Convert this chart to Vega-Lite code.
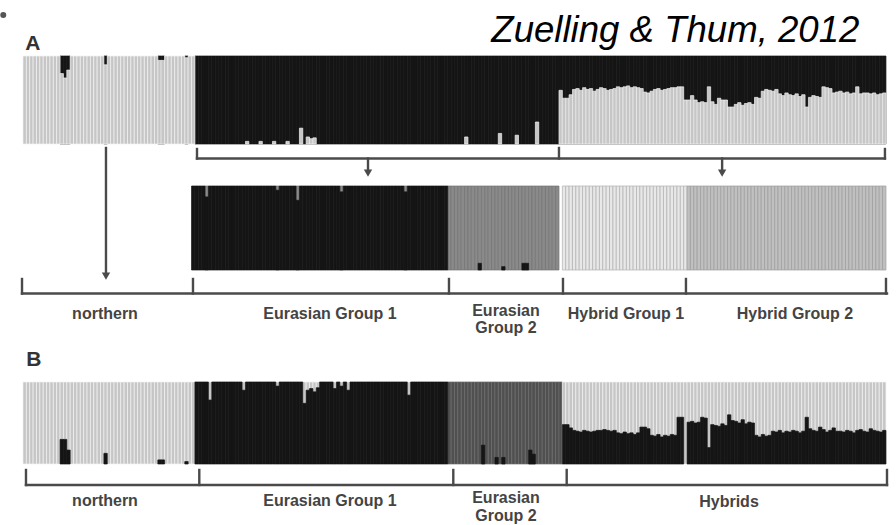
{
  "$schema": "https://vega.github.io/schema/vega-lite/v6.json",
  "width": 896,
  "height": 525,
  "padding": 0,
  "autosize": {"type": "fit", "contains": "padding"},
  "background": "white",
  "config": {"view": {"stroke": null}},
  "datasets": {
    "A": [
      {"lo": "c2", "up": "c1",
       "i": [0,1,2,3,4,5,6,7,8,9,10,11,12,13,14,15,16,17,18,19,20,21,22,23,24,25,26,27,28,29,30,31,32,33,34,35,36,37,38,39,40,41,42,43,44,45,46,47,48,49,50],
       "b": [1,1,1,1,1,1,1,1,1,1, 1,0.8,0.75,0.84,1,1,1,1,1,1, 1,1,1,1,0.9,1,1,1,1,1, 1,1,1,1,1,1,1,1,1,1, 0.95,0.95,1,1,1,1,1,1,0.98,1, 1]},
      {"lo": "c2", "up": "c1",
       "i": [51,52,53,54,55,56,57,58,59,60,61,62,63,64,65,66,67,68,69,70,71,72,73,74,75,76,77,78,79,80,81,82,83,84,85,86,87,88,89,90,91,92,93,94,95,96,97,98,99,100,101,102,103,104,105,106,107,108,109,110,111,112,113,114,115,116,117,118,119,120,121,122,123,124,125,126,127,128,129,130,131,132,133,134,135,136,137,138,139,140,141,142,143,144,145,146,147,148,149,150,151,152,153,154,155,156,157,158],
       "b": [0,0,0,0,0,0,0,0,0,0, 0,0,0,0,0,0.03,0,0,0,0.03, 0,0,0,0.03,0,0,0,0.03,0,0, 0,0.18,0,0.08,0.06,0.07,0,0,0,0, 0,0,0,0,0,0,0,0,0,0, 0,0,0,0,0,0,0,0,0,0, 0,0,0,0,0,0,0,0,0,0, 0,0,0,0,0,0,0,0,0,0, 0.08,0,0,0,0,0,0,0,0,0, 0.12,0,0,0,0,0.1,0,0,0,0, 0,0.25,0,0,0,0,0,0]},
      {"lo": "c2", "up": "c1",
       "i": [159,160,161,162,163,164,165,166,167,168,169,170,171,172,173,174,175,176,177,178,179,180,181,182,183,184,185,186,187,188,189,190,191,192,193,194,195,196,197,198,199,200,201,202,203,204,205,206,207,208,209,210,211,212,213,214,215,216,217,218,219,220,221,222,223,224,225,226,227,228,229,230,231,232,233,234,235,236,237,238,239,240,241,242,243,244,245,246,247,248,249,250,251,252,253,254,255],
       "b": [0.61,0.52,0.52,0.56, 0.62,0.63,0.61,0.64,0.62,0.63,0.6,0.62,0.64,0.63,0.61,0.62,0.63, 0.65,0.64,0.65,0.66,0.64,0.65,0.64,0.63, 0.59,0.58,0.6, 0.62,0.63,0.61,0.62,0.63,0.64,0.64, 0.65,0.65, 0.5, 0.5, 0.55,0.5,0.47,0.48, 0.47, 0.65, 0.48,0.45,0.52,0.5, 0.5, 0.42,0.42, 0.45,0.47,0.44,0.46,0.47,0.45, 0.53,0.52, 0.6,0.62,0.61,0.6,0.62, 0.57,0.55,0.58,0.56,0.55,0.57,0.54,0.56, 0.42, 0.53,0.55,0.54,0.53, 0.65,0.64,0.63, 0.58,0.59,0.6,0.58,0.59,0.57,0.58, 0.65, 0.57,0.58,0.58,0.57,0.58,0.56,0.57,0.58]}
    ],
    "A2": [
      {"lo": "c1", "up": "c3",
       "i": [50,51,52,53,54,55,56,57,58,59,60,61,62,63,64,65,66,67,68,69,70,71,72,73,74,75,76,77,78,79,80,81,82,83,84,85,86,87,88,89,90,91,92,93,94,95,96,97,98,99,100,101,102,103,104,105,106,107,108,109,110,111,112,113,114,115,116,117,118,119,120,121,122,123,124,125],
       "b": [1,1,1,1,0.87,1,1,1,1,1, 1,1,1,1,1,1,1,1,1,1, 1,1,1,1,1,0.95,1,1,1,1, 1,0.83,1,1,1,1,1,1,1,1, 1,1,1,1,0.93,1,1,1,1,1, 1,1,1,1,1,1,1,1,1,1, 1,1,1,0.93,1,1,1,1,1,1, 1,1,1,1,1,1]},
      {"lo": "c1", "up": "c3",
       "i": [126,127,128,129,130,131,132,133,134,135,136,137,138,139,140,141,142,143,144,145,146,147,148,149,150,151,152,153,154,155,156,157,158],
       "b": [0,0,0,0,0,0,0,0,0,0.08, 0,0,0,0,0,0,0.04,0,0,0, 0,0,0.08,0.08,0,0,0,0,0,0, 0,0,0]},
      {"lo": "c4", "up": "c5",
       "i": [160,161,162,163,164,165,166,167,168,169,170,171,172,173,174,175,176,177,178,179,180,181,182,183,184,185,186,187,188,189,190,191,192,193,194,195,196],
       "b": [1,1,1,1,1,1,1,1,1,1, 1,1,1,1,1,1,1,1,1,1, 1,1,1,1,1,1,1,1,1,1, 1,1,1,1,1,1,1]},
      {"lo": "c5", "up": "c4",
       "i": [197,198,199,200,201,202,203,204,205,206,207,208,209,210,211,212,213,214,215,216,217,218,219,220,221,222,223,224,225,226,227,228,229,230,231,232,233,234,235,236,237,238,239,240,241,242,243,244,245,246,247,248,249,250,251,252,253,254,255],
       "b": [1,1,1,1,1,1,1,1,1,1, 1,1,1,1,1,1,1,1,1,1, 1,1,1,1,1,1,1,1,1,1, 1,1,1,1,1,1,1,1,1,1, 1,1,1,1,1,1,1,1,1,1, 1,1,1,1,1,1,1,1,1]}
    ],
    "B": [
      {"lo": "c1", "up": "c2",
       "i": [0,1,2,3,4,5,6,7,8,9,10,11,12,13,14,15,16,17,18,19,20,21,22,23,24,25,26,27,28,29,30,31,32,33,34,35,36,37,38,39,40,41,42,43,44,45,46,47,48,49,50],
       "b": [0,0,0,0,0,0,0,0,0,0, 0,0.3,0.3,0.17,0,0,0,0,0,0, 0,0,0,0,0.13,0,0,0,0,0, 0,0,0,0,0,0,0,0,0,0, 0.05,0.05,0,0,0,0,0,0,0.03,0, 0]},
      {"lo": "c1", "up": "c2",
       "i": [51,52,53,54,55,56,57,58,59,60,61,62,63,64,65,66,67,68,69,70,71,72,73,74,75,76,77,78,79,80,81,82,83,84,85,86,87,88,89,90,91,92,93,94,95,96,97,98,99,100,101,102,103,104,105,106,107,108,109,110,111,112,113,114,115,116,117,118,119,120,121,122,123,124,125],
       "b": [1,1,1,1,0.78,1,1,1,1,1, 1,1,1,1,0.9,1,1,1,1,1, 1,1,1,1,0.95,1,1,1,1,1, 1,1,0.74,0.9,0.92,0.88,0.93,1,1,1, 1,0.92,1,0.95,1,0.9,1,1,1,1, 1,1,1,1,1,1,1,1,1,1, 1,1,1,0.84,1,1,1,1,1,1, 1,1,1,1,1]},
      {"lo": "c1", "up": "c6",
       "i": [126,127,128,129,130,131,132,133,134,135,136,137,138,139,140,141,142,143,144,145,146,147,148,149,150,151,152,153,154,155,156,157,158,159],
       "b": [0,0,0,0,0,0,0,0,0,0, 0.23,0,0,0,0.08,0,0.08,0,0,0, 0,0,0,0,0.17,0.12,0,0,0,0, 0,0,0,0]},
      {"lo": "c1", "up": "c2",
       "i": [160,161,162,163,164,165,166,167,168,169,170,171,172,173,174,175,176,177,178,179,180,181,182,183,184,185,186,187,188,189,190,191,192,193,194,195,196,197,198,199,200,201,202,203,204,205,206,207,208,209,210,211,212,213,214,215,216,217,218,219,220,221,222,223,224,225,226,227,228,229,230,231,232,233,234,235,236,237,238,239,240,241,242,243,244,245,246,247,248,249,250,251,252,253,254,255],
       "b": [0.48,0.48,0.44, 0.41,0.4,0.39,0.41,0.4,0.39,0.4,0.41, 0.41,0.42,0.41,0.4,0.41, 0.38,0.37,0.39,0.37,0.38,0.36,0.38, 0.45,0.45,0.43, 0.35,0.34,0.36,0.33,0.35,0.34,0.36,0.35, 0.57, 0.57, 0, 0.51,0.52,0.5,0.51, 0.57,0.56, 0.2, 0.48,0.47,0.46,0.49,0.47, 0.6, 0.53,0.52,0.5,0.54,0.49,0.51,0.5, 0.35,0.33,0.36,0.34,0.35, 0.4,0.39,0.41,0.38,0.4,0.39,0.41,0.4,0.38,0.4, 0.57, 0.43,0.41,0.4,0.45,0.42,0.39,0.41,0.44,0.4, 0.4,0.39,0.41,0.4,0.38,0.41,0.42,0.4,0.39,0.43,0.41,0.4,0.39,0.41]}
    ],
    "r1": [
      {"x": 51.12, "x2": 255.2, "y": -0.165, "y2": -0.165},
      {"x": 51.12, "x2": 51.12, "y": -0.057, "y2": -0.165},
      {"x": 158.5, "x2": 158.5, "y": -0.045, "y2": -0.165},
      {"x": 255.2, "x2": 255.2, "y": -0.057, "y2": -0.165},
      {"x": 101.85, "x2": 101.85, "y": -0.165, "y2": -0.3},
      {"x": 206.9, "x2": 206.9, "y": -0.165, "y2": -0.3},
      {"x": 24.12, "x2": 24.12, "y": -0.045, "y2": -1.47}
    ],
    "heads": [
      {"x": 101.85, "y": -0.33},
      {"x": 206.9, "y": -0.33},
      {"x": 24.12, "y": -1.5}
    ],
    "r2": [
      {"x": -0.79, "x2": 255.81, "y": -0.28, "y2": -0.28},
      {"x": -0.79, "x2": -0.79, "y": -0.107, "y2": -0.28},
      {"x": 49.93, "x2": 49.93, "y": -0.107, "y2": -0.28},
      {"x": 125.87, "x2": 125.87, "y": -0.107, "y2": -0.28},
      {"x": 159.69, "x2": 159.69, "y": -0.107, "y2": -0.28},
      {"x": 196.17, "x2": 196.17, "y": -0.107, "y2": -0.28},
      {"x": 255.51, "x2": 255.51, "y": -0.107, "y2": -0.28}
    ],
    "t2": [
      {"x": 23.83, "y": -0.583, "t": "northern"},
      {"x": 90.57, "y": -0.583, "t": "Eurasian Group 1"},
      {"x": 142.78, "y": -0.548, "t": "Eurasian"},
      {"x": 142.78, "y": -0.75, "t": "Group 2"},
      {"x": 178.38, "y": -0.583, "t": "Hybrid Group 1"},
      {"x": 228.52, "y": -0.583, "t": "Hybrid Group 2"}
    ],
    "r3": [
      {"x": 0.39, "x2": 255.81, "y": -0.256, "y2": -0.256},
      {"x": 0.39, "x2": 0.39, "y": -0.073, "y2": -0.256},
      {"x": 51.8, "x2": 51.8, "y": -0.073, "y2": -0.256},
      {"x": 127.15, "x2": 127.15, "y": -0.073, "y2": -0.256},
      {"x": 160.79, "x2": 160.79, "y": -0.073, "y2": -0.256},
      {"x": 255.81, "x2": 255.81, "y": -0.073, "y2": -0.256}
    ],
    "t3": [
      {"x": 23.83, "y": -0.512, "t": "northern"},
      {"x": 90.57, "y": -0.512, "t": "Eurasian Group 1"},
      {"x": 142.78, "y": -0.476, "t": "Eurasian"},
      {"x": 142.78, "y": -0.695, "t": "Group 2"},
      {"x": 208.94, "y": -0.524, "t": "Hybrids"}
    ]
  },
  "resolve": {"scale": {"y": "independent"}},
  "layer": [
    {"data": {"name": "A"},
     "transform": [{"flatten": ["i", "b"]}, {"filter": "datum.b < 1"}],
     "mark": {"type": "bar", "width": 3.371, "strokeWidth": 0.7},
     "encoding": {
       "x": {"field": "i", "type": "quantitative", "axis": null, "scale": {"domain": [-7.32, 258.48], "nice": false, "zero": false, "padding": 0}},
       "y": {"datum": 1, "type": "quantitative", "axis": null, "scale": {"domain": [-4.3295, 1.6364], "nice": false, "zero": false}},
       "color": {"field": "up", "type": "nominal", "legend": null, "scale": {"domain": ["c1","c2","c3","c4","c5","c6"], "range": ["#151515","#c6c6c6","#8a8a8a","#e8e8e8","#c0c0c0","#505050"]}},
       "stroke": {"field": "up", "type": "nominal", "legend": null, "scale": {"domain": ["c1","c2","c3","c4","c5","c6"], "range": ["#151515","#f2f2f2","#727272","#b0b0b0","#9c9c9c","#6c6c6c"]}}
     }},
    {"data": {"name": "A"},
     "transform": [{"flatten": ["i", "b"]}, {"filter": "datum.b > 0"}],
     "mark": {"type": "bar", "width": 3.371, "strokeWidth": 0.7},
     "encoding": {
       "x": {"field": "i", "type": "quantitative", "axis": null, "scale": {"domain": [-7.32, 258.48], "nice": false, "zero": false, "padding": 0}},
       "y": {"field": "b", "type": "quantitative", "stack": null, "axis": null, "scale": {"domain": [-4.3295, 1.6364], "nice": false, "zero": false}},
       "color": {"field": "lo", "type": "nominal", "legend": null, "scale": {"domain": ["c1","c2","c3","c4","c5","c6"], "range": ["#151515","#c6c6c6","#8a8a8a","#e8e8e8","#c0c0c0","#505050"]}},
       "stroke": {"field": "lo", "type": "nominal", "legend": null, "scale": {"domain": ["c1","c2","c3","c4","c5","c6"], "range": ["#151515","#f2f2f2","#727272","#b0b0b0","#9c9c9c","#6c6c6c"]}}
     }},
    {"data": {"name": "r1"},
     "mark": {"type": "rule", "color": "#4a4a4a", "strokeWidth": 2.4, "strokeCap": "square"},
     "encoding": {
       "x": {"field": "x", "type": "quantitative", "axis": null, "scale": {"domain": [-7.32, 258.48], "nice": false, "zero": false, "padding": 0}},
       "x2": {"field": "x2"},
       "y": {"field": "y", "type": "quantitative", "axis": null, "scale": {"domain": [-4.3295, 1.6364], "nice": false, "zero": false}},
       "y2": {"field": "y2"}
     }},
    {"data": {"name": "heads"},
     "mark": {"type": "point", "shape": "triangle-down", "filled": true, "size": 70, "color": "#4a4a4a", "opacity": 1},
     "encoding": {
       "x": {"field": "x", "type": "quantitative", "axis": null, "scale": {"domain": [-7.32, 258.48], "nice": false, "zero": false, "padding": 0}},
       "y": {"field": "y", "type": "quantitative", "axis": null, "scale": {"domain": [-4.3295, 1.6364], "nice": false, "zero": false}}
     }},
    {"data": {"values": [{"x": 247.6, "y": 1.159, "t": "Zuelling & Thum, 2012"}]},
     "mark": {"type": "text", "font": "Liberation Sans", "fontStyle": "italic", "fontSize": 36.6, "color": "#000000", "align": "right", "baseline": "alphabetic"},
     "encoding": {
       "x": {"field": "x", "type": "quantitative", "axis": null, "scale": {"domain": [-7.32, 258.48], "nice": false, "zero": false, "padding": 0}},
       "y": {"field": "y", "type": "quantitative", "axis": null, "scale": {"domain": [-4.3295, 1.6364], "nice": false, "zero": false}},
       "text": {"field": "t", "type": "nominal"}
     }},
    {"data": {"values": [{"x": 0.2, "y": 1.068, "t": "A"}]},
     "mark": {"type": "text", "font": "Liberation Sans", "fontWeight": "bold", "fontSize": 21, "color": "#333333", "align": "left", "baseline": "alphabetic"},
     "encoding": {
       "x": {"field": "x", "type": "quantitative", "axis": null, "scale": {"domain": [-7.32, 258.48], "nice": false, "zero": false, "padding": 0}},
       "y": {"field": "y", "type": "quantitative", "axis": null, "scale": {"domain": [-4.3295, 1.6364], "nice": false, "zero": false}},
       "text": {"field": "t", "type": "nominal"}
     }},
    {"data": {"values": [{"x": -6.35, "y": 1.465}]},
     "mark": {"type": "point", "shape": "circle", "filled": true, "size": 36, "color": "#555555", "opacity": 1},
     "encoding": {
       "x": {"field": "x", "type": "quantitative", "axis": null, "scale": {"domain": [-7.32, 258.48], "nice": false, "zero": false, "padding": 0}},
       "y": {"field": "y", "type": "quantitative", "axis": null, "scale": {"domain": [-4.3295, 1.6364], "nice": false, "zero": false}}
     }},
    {"data": {"name": "A2"},
     "transform": [{"flatten": ["i", "b"]}, {"filter": "datum.b < 1"}],
     "mark": {"type": "bar", "width": 3.371, "strokeWidth": 0.7},
     "encoding": {
       "x": {"field": "i", "type": "quantitative", "axis": null, "scale": {"domain": [-7.32, 258.48], "nice": false, "zero": false, "padding": 0}},
       "y": {"datum": 1, "type": "quantitative", "axis": null, "scale": {"domain": [-3.0357, 3.2143], "nice": false, "zero": false}},
       "color": {"field": "up", "type": "nominal", "legend": null, "scale": {"domain": ["c1","c2","c3","c4","c5","c6"], "range": ["#151515","#c6c6c6","#8a8a8a","#e8e8e8","#c0c0c0","#505050"]}},
       "stroke": {"field": "up", "type": "nominal", "legend": null, "scale": {"domain": ["c1","c2","c3","c4","c5","c6"], "range": ["#151515","#f2f2f2","#727272","#b0b0b0","#9c9c9c","#6c6c6c"]}}
     }},
    {"data": {"name": "A2"},
     "transform": [{"flatten": ["i", "b"]}, {"filter": "datum.b > 0"}],
     "mark": {"type": "bar", "width": 3.371, "strokeWidth": 0.7},
     "encoding": {
       "x": {"field": "i", "type": "quantitative", "axis": null, "scale": {"domain": [-7.32, 258.48], "nice": false, "zero": false, "padding": 0}},
       "y": {"field": "b", "type": "quantitative", "stack": null, "axis": null, "scale": {"domain": [-3.0357, 3.2143], "nice": false, "zero": false}},
       "color": {"field": "lo", "type": "nominal", "legend": null, "scale": {"domain": ["c1","c2","c3","c4","c5","c6"], "range": ["#151515","#c6c6c6","#8a8a8a","#e8e8e8","#c0c0c0","#505050"]}},
       "stroke": {"field": "lo", "type": "nominal", "legend": null, "scale": {"domain": ["c1","c2","c3","c4","c5","c6"], "range": ["#151515","#f2f2f2","#727272","#b0b0b0","#9c9c9c","#6c6c6c"]}}
     }},
    {"data": {"name": "r2"},
     "mark": {"type": "rule", "color": "#4a4a4a", "strokeWidth": 2.4, "strokeCap": "square"},
     "encoding": {
       "x": {"field": "x", "type": "quantitative", "axis": null, "scale": {"domain": [-7.32, 258.48], "nice": false, "zero": false, "padding": 0}},
       "x2": {"field": "x2"},
       "y": {"field": "y", "type": "quantitative", "axis": null, "scale": {"domain": [-3.0357, 3.2143], "nice": false, "zero": false}},
       "y2": {"field": "y2"}
     }},
    {"data": {"name": "t2"},
     "mark": {"type": "text", "font": "Liberation Sans", "fontWeight": "bold", "fontSize": 16, "color": "#444444", "align": "center", "baseline": "alphabetic"},
     "encoding": {
       "x": {"field": "x", "type": "quantitative", "axis": null, "scale": {"domain": [-7.32, 258.48], "nice": false, "zero": false, "padding": 0}},
       "y": {"field": "y", "type": "quantitative", "axis": null, "scale": {"domain": [-3.0357, 3.2143], "nice": false, "zero": false}},
       "text": {"field": "t", "type": "nominal"}
     }},
    {"data": {"name": "B"},
     "transform": [{"flatten": ["i", "b"]}, {"filter": "datum.b < 1"}],
     "mark": {"type": "bar", "width": 3.371, "strokeWidth": 0.7},
     "encoding": {
       "x": {"field": "i", "type": "quantitative", "axis": null, "scale": {"domain": [-7.32, 258.48], "nice": false, "zero": false, "padding": 0}},
       "y": {"datum": 1, "type": "quantitative", "axis": null, "scale": {"domain": [-0.7439, 5.6585], "nice": false, "zero": false}},
       "color": {"field": "up", "type": "nominal", "legend": null, "scale": {"domain": ["c1","c2","c3","c4","c5","c6"], "range": ["#151515","#c6c6c6","#8a8a8a","#e8e8e8","#c0c0c0","#505050"]}},
       "stroke": {"field": "up", "type": "nominal", "legend": null, "scale": {"domain": ["c1","c2","c3","c4","c5","c6"], "range": ["#151515","#f2f2f2","#727272","#b0b0b0","#9c9c9c","#6c6c6c"]}}
     }},
    {"data": {"name": "B"},
     "transform": [{"flatten": ["i", "b"]}, {"filter": "datum.b > 0"}],
     "mark": {"type": "bar", "width": 3.371, "strokeWidth": 0.7},
     "encoding": {
       "x": {"field": "i", "type": "quantitative", "axis": null, "scale": {"domain": [-7.32, 258.48], "nice": false, "zero": false, "padding": 0}},
       "y": {"field": "b", "type": "quantitative", "stack": null, "axis": null, "scale": {"domain": [-0.7439, 5.6585], "nice": false, "zero": false}},
       "color": {"field": "lo", "type": "nominal", "legend": null, "scale": {"domain": ["c1","c2","c3","c4","c5","c6"], "range": ["#151515","#c6c6c6","#8a8a8a","#e8e8e8","#c0c0c0","#505050"]}},
       "stroke": {"field": "lo", "type": "nominal", "legend": null, "scale": {"domain": ["c1","c2","c3","c4","c5","c6"], "range": ["#151515","#f2f2f2","#727272","#b0b0b0","#9c9c9c","#6c6c6c"]}}
     }},
    {"data": {"name": "r3"},
     "mark": {"type": "rule", "color": "#4a4a4a", "strokeWidth": 2.4, "strokeCap": "square"},
     "encoding": {
       "x": {"field": "x", "type": "quantitative", "axis": null, "scale": {"domain": [-7.32, 258.48], "nice": false, "zero": false, "padding": 0}},
       "x2": {"field": "x2"},
       "y": {"field": "y", "type": "quantitative", "axis": null, "scale": {"domain": [-0.7439, 5.6585], "nice": false, "zero": false}},
       "y2": {"field": "y2"}
     }},
    {"data": {"name": "t3"},
     "mark": {"type": "text", "font": "Liberation Sans", "fontWeight": "bold", "fontSize": 16, "color": "#444444", "align": "center", "baseline": "alphabetic"},
     "encoding": {
       "x": {"field": "x", "type": "quantitative", "axis": null, "scale": {"domain": [-7.32, 258.48], "nice": false, "zero": false, "padding": 0}},
       "y": {"field": "y", "type": "quantitative", "axis": null, "scale": {"domain": [-0.7439, 5.6585], "nice": false, "zero": false}},
       "text": {"field": "t", "type": "nominal"}
     }},
    {"data": {"values": [{"x": 0.5, "y": 1.195, "t": "B"}]},
     "mark": {"type": "text", "font": "Liberation Sans", "fontWeight": "bold", "fontSize": 21, "color": "#333333", "align": "left", "baseline": "alphabetic"},
     "encoding": {
       "x": {"field": "x", "type": "quantitative", "axis": null, "scale": {"domain": [-7.32, 258.48], "nice": false, "zero": false, "padding": 0}},
       "y": {"field": "y", "type": "quantitative", "axis": null, "scale": {"domain": [-0.7439, 5.6585], "nice": false, "zero": false}},
       "text": {"field": "t", "type": "nominal"}
     }}
  ]
}
